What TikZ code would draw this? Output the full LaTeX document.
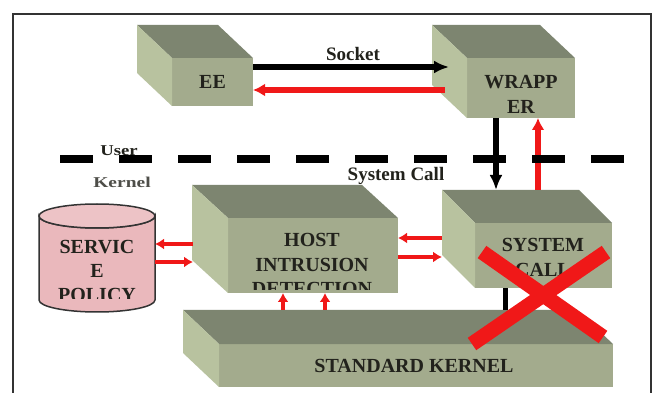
\documentclass[tikz,border=0pt]{standalone}
\usepackage{fontspec}
\setmainfont{Liberation Serif}
\usetikzlibrary{arrows.meta}
\definecolor{frontc}{HTML}{A3AB8D}
\definecolor{topc}{HTML}{7D8570}
\definecolor{sidec}{HTML}{B8C29F}
\definecolor{pinkc}{HTML}{EAB8BC}
\definecolor{inkc}{HTML}{22221C}
\definecolor{redc}{HTML}{F01818}
\newcommand{\sagecube}[7]{%
  \node[face, minimum width=#4pt, minimum height=#5pt] (#1) at (#2,#3) {};
  \fill[topc] (#1.north west) -- ++(-#6,-#7) -- ++(#4,0) -- (#1.north east) -- cycle;
  \fill[sidec] (#1.north west) -- ++(-#6,-#7) -- ++(0,#5) -- (#1.south west) -- cycle;
}
\begin{document}
\begin{tikzpicture}[x=1pt,y=-1pt,
  face/.style={rectangle, fill=frontc, inner sep=0pt, outer sep=0pt},
  lbl/.style={font=\fontsize{20}{24}\selectfont\bfseries, text=inkc, inner sep=0pt},
  smalllbl/.style={font=\fontsize{15}{17}\selectfont\bfseries, text=inkc, inner sep=0pt},
  blk/.style={draw=black, line width=6pt, -{Latex[length=15pt,width=13pt]}},
  rd/.style={draw=redc, line width=6pt, -{Latex[length=12pt,width=13pt]}},
  rdthin/.style={draw=redc, line width=4.5pt, -{Latex[length=9pt,width=11pt]}},
]
\useasboundingbox (0,0) rectangle (657,393);
\clip (0,0) rectangle (657,393);
\fill[white] (0,0) rectangle (657,393);
\draw[line width=1.8pt, draw=black!80] (13,14) rectangle (651,397);

% boxes
\sagecube{ee}{212.5}{82}{81}{48}{35}{33}
\sagecube{wr}{521}{88}{108}{60}{35}{33}
\sagecube{kn}{416}{365.5}{394}{43}{36}{34}
\sagecube{host}{313}{255.5}{170}{75}{36}{33}
\sagecube{sc}{543.5}{255.5}{137}{65}{33}{33}

% cylinder
\draw[fill=pinkc, draw=black!80, line width=1.5pt]
  (39,216) -- (39,300) arc[start angle=180, end angle=0, x radius=58, y radius=12]
  -- (155,216) arc[start angle=0, end angle=180, x radius=58, y radius=12] -- cycle;
\draw[fill=pinkc!85!white, draw=black!80, line width=1.5pt] (97,216) ellipse[x radius=58, y radius=12];
\coordinate (cyl) at (155,253);

% labels
\node[lbl] (eet) at (ee) {EE};
\node[lbl] (wrt1) at (521,82) {WRAPP};
\node[lbl] (wrt2) at (521,107) {ER};
\node[lbl] (ht1) at (312,240) {HOST};
\node[lbl] (ht2) at (312,265) {INTRUSION};
\begin{scope}
  \clip (228,275) rectangle (398,290);
  \node[lbl] (ht3) at (312,289) {DETECTION};
\end{scope}
\node[lbl] (st1) at (543,245) {SYSTEM};
\node[lbl] (st2) at (543,270) {CALL};
\node[lbl] (pt1) at (97,247) {SERVIC};
\node[lbl] (pt2) at (97,271) {E};
\begin{scope}
  \clip (40,280) rectangle (155,299);
  \node[lbl] (pt3) at (97,295) {POLICY};
\end{scope}
\node[lbl] (kt) at (414,366) {STANDARD KERNEL};
\node[lbl, font=\fontsize{19}{22}\selectfont\bfseries] (sock) at (353,54) {Socket};
\node[lbl, font=\fontsize{19}{22}\selectfont\bfseries] (sysc) at (396,176) {System Call};
\node[smalllbl] (usr) at (119,151) {\scalebox{1.25}[1]{User}};
\node[smalllbl, text=inkc!80] (krn) at (122,182) {\scalebox{1.3}[1]{Kernel}};

% connectors
\draw[blk] ([yshift=-9pt]ee.north east) -- ([xshift=-18pt,yshift=-9pt]wr.north west);
\draw[rd] ([xshift=-22pt,yshift=-32pt]wr.north west) -- ([yshift=-32pt]ee.north east);
\draw[blk] ([xshift=-25pt]wr.south) -- ([xshift=21pt,yshift=33pt]sc.north west);
\draw[rd] ([xshift=63pt,yshift=33pt]sc.north west) -- ([xshift=17pt]wr.south);
\draw[rdthin] ([xshift=-33pt,yshift=17.5pt]sc.west) -- ([yshift=17.5pt]host.east);
\draw[rdthin] ([yshift=-1.5pt]host.east) -- ([xshift=-33pt,yshift=-1.5pt]sc.west);
\draw[rdthin] ([xshift=-35pt,yshift=11.5pt]host.west) -- ([yshift=9pt]cyl);
\draw[rdthin] ([yshift=-9pt]cyl) -- ([xshift=-35pt,yshift=-6.5pt]host.west);
\draw[rdthin] ([xshift=64pt,yshift=34pt]kn.north west) -- ([xshift=-30pt]host.south);
\draw[rdthin] ([xshift=106pt,yshift=34pt]kn.north west) -- ([xshift=12pt]host.south);
\draw[draw=black, line width=5pt] ([xshift=-38.5pt]sc.south) -- ([xshift=286pt,yshift=34pt]kn.north west);

% user/kernel boundary
\draw[line width=8pt, dash pattern=on 33pt off 26pt] (60,159) -- (624,159);

% red cross
\draw[redc, line width=15pt] (482,252) -- (603,337);
\draw[redc, line width=15pt] (606,252) -- (472,344);
\end{tikzpicture}
\end{document}
